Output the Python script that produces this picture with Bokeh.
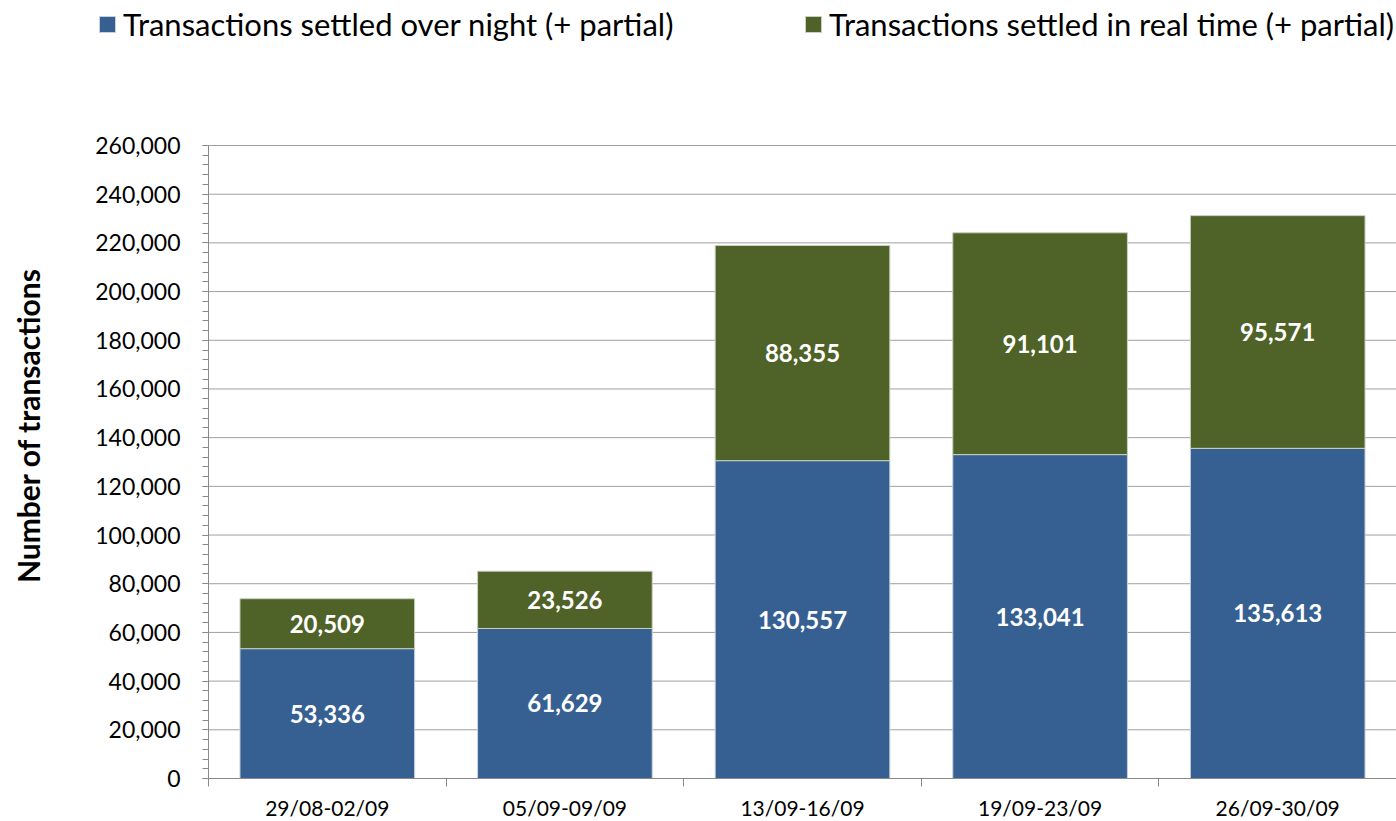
from bokeh.plotting import figure
from bokeh.models import (ColumnDataSource, Range1d, FixedTicker, NumeralTickFormatter,
                          CustomJSTickFormatter, Legend, LegendItem)
from bokeh.core.properties import value
from bokeh.embed import file_html
from bokeh.resources import INLINE

categories = ["29/08-02/09", "05/09-09/09", "13/09-16/09", "19/09-23/09", "26/09-30/09"]
overnight = [53336, 61629, 130557, 133041, 135613]
realtime = [20509, 23526, 88355, 91101, 95571]
series_names = ["Transactions settled over night (+ partial)",
                "Transactions settled in real time (+ partial)"]
y_ticks = list(range(0, 260001, 20000))
Y_MAX = 260000

BLUE = "#376092"
GREEN = "#4F6228"
FONT = "Lato"

# layout (pixels): the frame covers the whole canvas; axes are placed at fixed locations
W, H = 1396, 821
AX_LEFT, AX_TOP, AX_BOTTOM = 208, 145, 778
n = len(categories)
px_x = (W - AX_LEFT) / n                    # pixels per category
px_y = (AX_BOTTOM - AX_TOP) / Y_MAX         # pixels per transaction
x_range = Range1d(-AX_LEFT / px_x, n)
y_range = Range1d(-(H - AX_BOTTOM) / px_y, AX_BOTTOM / px_y)

xc = [i + 0.5 for i in range(n)]
tops = [a + b for a, b in zip(overnight, realtime)]
src = ColumnDataSource(dict(
    x=xc, ov=overnight, rt=realtime, top=tops,
    ov_mid=[a / 2 for a in overnight],
    rt_mid=[a + b / 2 for a, b in zip(overnight, realtime)],
    ov_lbl=[f"{a:,}" for a in overnight],
    rt_lbl=[f"{b:,}" for b in realtime],
))

p = figure(width=W, height=H, output_backend="svg", toolbar_location=None,
           x_range=x_range, y_range=y_range,
           min_border=0, min_border_left=0, min_border_right=0,
           min_border_top=0, min_border_bottom=0)
p.outline_line_color = None
p.background_fill_color = "white"
p.xgrid.grid_line_color = None
p.ygrid.grid_line_color = None

# horizontal gridlines across the category span only
grid_y = y_ticks[1:]
p.segment(x0=[0] * len(grid_y), y0=grid_y, x1=[n] * len(grid_y), y1=grid_y,
          line_color="#a0a0a0", line_width=1, level="underlay")

r1 = p.vbar(x="x", bottom=0, top="ov", width=0.735, source=src, fill_color=BLUE,
            line_color="#c8d0dc", line_width=1)
r2 = p.vbar(x="x", bottom="ov", top="top", width=0.735, source=src, fill_color=GREEN,
            line_color="#c8d0c0", line_width=1)

for col, ycol in (("ov_lbl", "ov_mid"), ("rt_lbl", "rt_mid")):
    p.text(x="x", y=ycol, text=col, source=src, text_align="center", text_baseline="middle",
           text_color="white", text_font=value(FONT), text_font_style="bold",
           text_font_size="24px")

# Y axis
ya = p.yaxis[0]
ya.fixed_location = 0
ya.bounds = (0, Y_MAX)
ya.ticker = FixedTicker(ticks=y_ticks, minor_ticks=list(range(0, Y_MAX + 1, 4000)))
ya.formatter = NumeralTickFormatter(format="0,0")
ya.major_label_text_font = FONT
ya.major_label_text_font_size = "23px"
ya.major_label_text_color = "black"
ya.major_tick_out = 6
ya.major_tick_in = 0
ya.minor_tick_out = 6
ya.minor_tick_in = 0
ya.major_label_standoff = 22
ya.axis_line_color = "#888888"
ya.major_tick_line_color = "#888888"
ya.minor_tick_line_color = "#888888"
ya.axis_label = "\u00a0" * 10 + "Number of transactions"
ya.axis_label_text_font = FONT
ya.axis_label_text_font_style = "bold"
ya.axis_label_text_font_size = "30px"
ya.axis_label_text_color = "black"
ya.axis_label_standoff = 46

# X axis
xa = p.xaxis[0]
xa.fixed_location = 0
xa.bounds = (0, n)
xa.ticker = FixedTicker(ticks=xc, minor_ticks=list(range(0, n + 1)))
xa.formatter = CustomJSTickFormatter(args=dict(cats=categories),
                                     code="return cats[Math.floor(tick)];")
xa.major_label_text_font = FONT
xa.major_label_text_font_size = "21px"
xa.major_label_text_color = "black"
xa.major_tick_out = 0
xa.major_tick_in = 0
xa.minor_tick_out = 8
xa.minor_tick_in = 0
xa.major_label_standoff = 8
xa.axis_line_color = "#888888"
xa.minor_tick_line_color = "#888888"

lg = Legend(items=[LegendItem(label=series_names[0], renderers=[r1]),
                   LegendItem(label=series_names[1], renderers=[r2])],
            location=(97, H - 43),
            orientation="horizontal", padding=0, margin=0, spacing=0,
            border_line_color=None, background_fill_alpha=0,
            glyph_width=20, glyph_height=20, label_standoff=6, label_width=680,
            label_text_font=FONT, label_text_font_size="31px", label_height=20,
            label_text_color="black")
p.add_layout(lg, "center")

open("out.html", "w").write(file_html(p, INLINE))
